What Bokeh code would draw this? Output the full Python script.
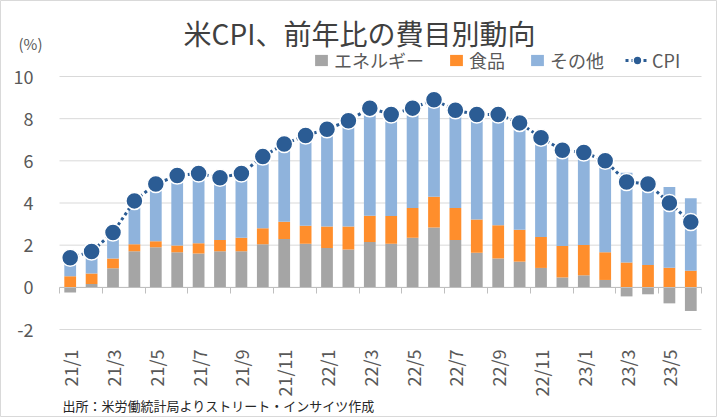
import math
import numpy as np
from bokeh.plotting import figure
from bokeh.models import (ColumnDataSource, FixedTicker, LinearAxis, Legend,
                          LegendItem, Label, Range1d, CustomLabelingPolicy)
from bokeh.embed import file_html
from bokeh.resources import INLINE

# ---- data ----
months = ["21/1", "21/2", "21/3", "21/4", "21/5", "21/6", "21/7", "21/8", "21/9", "21/10",
          "21/11", "21/12", "22/1", "22/2", "22/3", "22/4", "22/5", "22/6", "22/7", "22/8",
          "22/9", "22/10", "22/11", "22/12", "23/1", "23/2", "23/3", "23/4", "23/5", "23/6"]
energy = [-0.24, 0.16, 0.90, 1.71, 1.90, 1.66, 1.61, 1.71, 1.71, 2.04,
          2.29, 2.07, 1.86, 1.79, 2.15, 2.07, 2.35, 2.84, 2.24, 1.64,
          1.37, 1.22, 0.92, 0.47, 0.57, 0.35, -0.43, -0.33, -0.76, -1.12]
food = [0.52, 0.50, 0.47, 0.33, 0.28, 0.33, 0.48, 0.53, 0.64, 0.76,
        0.82, 0.85, 1.02, 1.10, 1.25, 1.31, 1.41, 1.46, 1.52, 1.58,
        1.57, 1.51, 1.47, 1.49, 1.44, 1.31, 1.18, 1.06, 0.93, 0.79]
other = [1.12, 1.04, 1.23, 2.06, 2.72, 3.31, 3.31, 2.96, 3.05, 3.40,
         3.69, 4.28, 4.62, 5.01, 5.10, 4.82, 4.74, 4.60, 4.64, 4.98,
         5.26, 5.07, 4.71, 4.54, 4.39, 4.34, 4.25, 4.17, 3.83, 3.43]
cpi = [1.4, 1.7, 2.6, 4.1, 4.9, 5.3, 5.4, 5.2, 5.4, 6.2,
       6.8, 7.2, 7.5, 7.9, 8.5, 8.2, 8.5, 8.9, 8.4, 8.2,
       8.2, 7.8, 7.1, 6.5, 6.4, 6.0, 5.0, 4.9, 4.0, 3.1]
y_ticks = [-2, 0, 2, 4, 6, 8, 10]
y_labels = ["-2", "0", "2", "4", "6", "8", "10"]

title_text = "米CPI、前年比の費目別動向"
unit_text = "(%)"
source_text = "出所：米労働統計局よりストリート・インサイツ作成"
series_names = ["エネルギー", "食品", "その他", "CPI"]

# ---- layout geometry (pixels) ----
W, H = 717, 417
PL, PR, PT, PB = 59, 701, 76, 329   # plot area edges

n = len(months)
x_lo, x_hi = -0.5, n - 0.5
y_lo, y_hi = y_ticks[0], y_ticks[-1]
xpp = (x_hi - x_lo) / (PR - PL)
ypp = (y_hi - y_lo) / (PB - PT)
x_range = Range1d(x_lo - PL * xpp, x_hi + (W - PR) * xpp)
y_range = Range1d(y_lo - (H - PB) * ypp, y_hi + PT * ypp)

# ---- derived stacking ----
x = np.arange(n)
e = np.array(energy)
f = np.array(food)
o = np.array(other)
pos_base = np.maximum(e, 0)
src = ColumnDataSource(dict(
    x=x,
    e_bot=np.zeros(n), e_top=e,
    f_bot=pos_base, f_top=pos_base + f,
    o_bot=pos_base + f, o_top=pos_base + f + o,
    cpi=np.array(cpi),
))

FONT = "Noto Sans CJK JP"
TXT = "#595959"
CPI_COLOR = "#2B5C94"

p = figure(width=W, height=H, x_range=x_range, y_range=y_range,
           output_backend="svg", toolbar_location=None,
           x_axis_location=None, y_axis_location=None, min_border=0)
p.outline_line_color = "#D9D9D9"
p.background_fill_color = "white"
p.border_fill_color = "white"
p.xgrid.visible = False
p.ygrid.visible = False

# gridlines limited to the plot area
p.segment(x0=[x_lo] * len(y_ticks), x1=[x_hi] * len(y_ticks), y0=y_ticks, y1=y_ticks,
          line_color="#D9D9D9", line_width=1)

# y axis labels
yaxis = LinearAxis(fixed_location=x_lo, ticker=FixedTicker(ticks=y_ticks),
                   major_label_overrides=dict(zip(y_ticks, y_labels)),
                   axis_line_color=None, major_tick_line_color=None,
                   minor_tick_line_color=None, major_label_standoff=20,
                   major_label_text_font=FONT, major_label_text_font_size="18px",
                   major_label_text_color=TXT)
p.add_layout(yaxis, "left")

# x category labels (low position, below the -2 line)
label_pos = list(range(0, n, 2))
xaxis = LinearAxis(fixed_location=y_lo, ticker=FixedTicker(ticks=label_pos),
                   major_label_overrides={i: months[i] for i in label_pos},
                   axis_line_color=None, major_tick_line_color=None,
                   minor_tick_line_color=None, major_label_orientation=math.pi / 2,
                   major_label_standoff=14, major_label_text_font=FONT,
                   major_label_text_font_size="18px", major_label_text_color=TXT)
p.add_layout(xaxis, "below")

# zero line with tick marks between category pairs
bounds = list(np.arange(x_lo, n, 2))
zero_axis = LinearAxis(fixed_location=0, ticker=FixedTicker(ticks=bounds),
                       bounds=(x_lo, x_hi),
                       axis_line_color="#BFBFBF", major_tick_line_color="#BFBFBF",
                       major_tick_out=6, major_tick_in=0, minor_tick_line_color=None,
                       major_label_policy=CustomLabelingPolicy(code="return new Set()"))
p.add_layout(zero_axis, "below")

bw = 0.55
r_e = p.vbar(x="x", bottom="e_bot", top="e_top", width=bw, source=src,
             fill_color="#A5A5A5", line_color=None)
r_f = p.vbar(x="x", bottom="f_bot", top="f_top", width=bw, source=src,
             fill_color="#FF8E2C", line_color=None)
r_o = p.vbar(x="x", bottom="o_bot", top="o_top", width=bw, source=src,
             fill_color="#8FB3DC", line_color=None)
r_l = p.line(x="x", y="cpi", source=src, line_color=CPI_COLOR, line_width=3,
             line_dash="3 3")
r_m = p.scatter(x="x", y="cpi", source=src, size=17, fill_color=CPI_COLOR,
                line_color="white", line_width=1.5)

common = dict(orientation="horizontal", padding=0, margin=0, label_standoff=5,
              background_fill_alpha=0, border_line_color=None,
              label_text_font=FONT, label_text_font_size="18px", label_text_color=TXT)

legend_bars = Legend(items=[
    LegendItem(label=series_names[0], renderers=[r_e]),
    LegendItem(label=series_names[1], renderers=[r_f]),
    LegendItem(label=series_names[2], renderers=[r_o]),
], location=(313, H - 73), spacing=24, glyph_width=16, glyph_height=14, **common)
p.add_layout(legend_bars, "center")

legend_cpi = Legend(items=[
    LegendItem(label=series_names[3], renderers=[r_l, r_m]),
], location=(625, H - 73), spacing=0, glyph_width=24, glyph_height=22, **common)
legend_cpi.label_standoff = 3
p.add_layout(legend_cpi, "center")

p.add_layout(Label(x=359, y=H - 32, x_units="screen", y_units="screen", text=title_text,
                   text_align="center", text_baseline="middle", text_font=FONT,
                   text_font_size="28px", text_color="#404040"))
p.add_layout(Label(x=30, y=H - 43, x_units="screen", y_units="screen", text=unit_text,
                   text_align="center", text_baseline="middle", text_font=FONT,
                   text_font_size="15px", text_color=TXT))
p.add_layout(Label(x=62, y=H - 405, x_units="screen", y_units="screen", text=source_text,
                   text_align="left", text_baseline="middle", text_font=FONT,
                   text_font_size="13px", text_color="#262626"))

open("out.html", "w").write(file_html(p, INLINE))
